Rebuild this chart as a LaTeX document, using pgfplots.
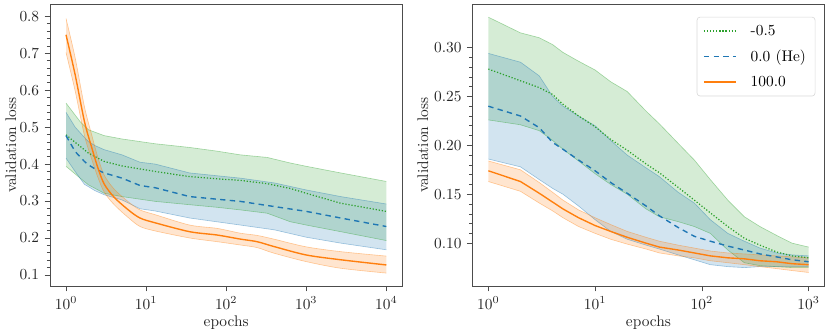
\documentclass[border=0pt]{standalone}
\usepackage{pgfplots}
\pgfplotsset{compat=1.18}
\usepackage{pgfplotstable}
\usepgfplotslibrary{fillbetween}

\definecolor{tabgreen}{HTML}{2CA02C}
\definecolor{tabblue}{HTML}{1F77B4}
\definecolor{taborange}{HTML}{FF7F0E}

% left panel: x, mean, upper, lower
\pgfplotstableread{
x     m     u     l
1     0.479 0.565 0.394
1.5   0.448 0.515 0.362
1.9   0.430 0.493 0.344
3     0.407 0.477 0.321
5     0.395 0.468 0.312
13    0.380 0.455 0.299
35    0.366 0.445 0.290
77    0.360 0.435 0.283
150   0.356 0.425 0.276
325   0.347 0.418 0.267
630   0.334 0.403 0.244
1000  0.321 0.394 0.235
2700  0.294 0.376 0.217
10000 0.272 0.353 0.193
}\Lgreen
\pgfplotstableread{
x     m     u     l
1     0.477 0.540 0.416
1.3   0.434 0.500 0.380
1.7   0.407 0.472 0.345
1.9   0.398 0.461 0.339
2.3   0.387 0.450 0.328
3     0.376 0.439 0.317
5     0.362 0.425 0.303
8.4   0.342 0.405 0.279
13    0.336 0.400 0.273
35    0.312 0.376 0.254
150   0.299 0.362 0.235
400   0.285 0.349 0.222
1000  0.272 0.330 0.202
2700  0.254 0.312 0.186
10000 0.231 0.292 0.168
}\Lblue
\pgfplotstableread{
x     m     u     l
1     0.750 0.794 0.702
1.3   0.642 0.688 0.598
1.7   0.515 0.555 0.477
2.1   0.444 0.478 0.412
2.5   0.390 0.418 0.364
3     0.346 0.370 0.324
4     0.310 0.332 0.290
6     0.276 0.298 0.255
8.4   0.254 0.276 0.231
13    0.241 0.263 0.219
35    0.217 0.235 0.200
77    0.208 0.226 0.190
150   0.197 0.213 0.181
243   0.190 0.207 0.174
393   0.177 0.197 0.159
1000  0.154 0.176 0.136
2700  0.141 0.163 0.118
10000 0.127 0.151 0.105
}\Lorange

% right panel
\pgfplotstableread{
x    m     u     l
1    0.278 0.331 0.226
2    0.266 0.315 0.221
3    0.259 0.310 0.215
4    0.252 0.303 0.205
5    0.242 0.295 0.196
7    0.230 0.286 0.184
10   0.219 0.277 0.171
14   0.206 0.265 0.160
20   0.195 0.255 0.150
30   0.181 0.235 0.135
40   0.172 0.222 0.127
60   0.157 0.202 0.122
85   0.144 0.185 0.117
120  0.131 0.165 0.110
175  0.117 0.144 0.093
250  0.105 0.127 0.080
350  0.098 0.117 0.077
500  0.091 0.108 0.076
700  0.087 0.100 0.075
1000 0.085 0.096 0.075
}\Rgreen
\pgfplotstableread{
x    m     u     l
1    0.240 0.294 0.186
2    0.230 0.285 0.178
3    0.218 0.271 0.165
4    0.203 0.250 0.156
5    0.196 0.240 0.150
7    0.185 0.230 0.138
10   0.174 0.220 0.124
14   0.162 0.205 0.112
20   0.151 0.190 0.104
30   0.138 0.177 0.098
40   0.128 0.168 0.094
60   0.116 0.152 0.088
85   0.107 0.141 0.083
120  0.102 0.124 0.078
175  0.097 0.110 0.076
250  0.093 0.102 0.075
350  0.089 0.095 0.076
500  0.086 0.090 0.076
700  0.083 0.088 0.076
1000 0.081 0.087 0.076
}\Rblue
\pgfplotstableread{
x    m     u     l
1    0.174 0.184 0.163
2    0.163 0.175 0.153
3    0.151 0.162 0.141
4    0.142 0.152 0.133
5    0.135 0.144 0.126
7    0.126 0.134 0.117
10   0.118 0.126 0.110
14   0.112 0.119 0.104
20   0.106 0.112 0.099
30   0.100 0.106 0.094
40   0.096 0.102 0.090
60   0.093 0.098 0.087
85   0.090 0.095 0.085
120  0.087 0.092 0.082
175  0.085 0.090 0.080
250  0.084 0.089 0.078
350  0.082 0.088 0.076
500  0.081 0.087 0.074
700  0.079 0.086 0.072
1000 0.078 0.085 0.070
}\Rorange

\begin{document}
\begin{tikzpicture}

% ---------- left panel ----------
\begin{axis}[
    at={(0pt,0pt)}, anchor=south west,
    xmode=log, log basis x=10,
    scale only axis, width=229pt, height=183pt,
    tick align=outside, tick pos=left,
    axis line style={black!70},
    every tick/.style={black!70},
    major tick length=3.5pt, minor tick length=2pt,
    minor y tick num=4,
    tick label style={text=black!85},
    label style={text=black!85},
    xlabel={epochs},
    ylabel={validation loss},
    xlabel style={at={(axis description cs:0.5,0)}, anchor=center, yshift=-23.5pt},
    ylabel style={at={(axis description cs:-0.111,0.5)}, anchor=center},
    xmin=0.631, xmax=15849,
    ymin=0.070, ymax=0.832,
    xtick={1,10,100,1000,10000},
    ytick={0.1,0.2,0.3,0.4,0.5,0.6,0.7,0.8},
    yticklabel style={/pgf/number format/.cd, fixed, fixed zerofill, precision=1},
]
\addplot[draw=tabgreen, draw opacity=0.4, line width=0.4pt, forget plot, name path=gu] table[x=x,y=u]{\Lgreen};
\addplot[draw=tabgreen, draw opacity=0.4, line width=0.4pt, forget plot, name path=gl] table[x=x,y=l]{\Lgreen};
\addplot[fill=tabgreen, fill opacity=0.2, draw=none, forget plot] fill between[of=gu and gl];
\addplot[draw=tabblue, draw opacity=0.4, line width=0.4pt, forget plot, name path=bu] table[x=x,y=u]{\Lblue};
\addplot[draw=tabblue, draw opacity=0.4, line width=0.4pt, forget plot, name path=bl] table[x=x,y=l]{\Lblue};
\addplot[fill=tabblue, fill opacity=0.2, draw=none, forget plot] fill between[of=bu and bl];
\addplot[draw=taborange, draw opacity=0.4, line width=0.4pt, smooth, tension=0.5, forget plot, name path=ou] table[x=x,y=u]{\Lorange};
\addplot[draw=taborange, draw opacity=0.4, line width=0.4pt, smooth, tension=0.5, forget plot, name path=ol] table[x=x,y=l]{\Lorange};
\addplot[fill=taborange, fill opacity=0.2, draw=none, forget plot] fill between[of=ou and ol];

\addplot[tabgreen, line width=0.8pt, dash pattern=on 0.8pt off 1.2pt] table[x=x,y=m]{\Lgreen};
\addplot[tabblue, line width=0.9pt, dash pattern=on 3.5pt off 2.8pt] table[x=x,y=m]{\Lblue};
\addplot[taborange, line width=0.9pt, smooth, tension=0.5] table[x=x,y=m]{\Lorange};
\end{axis}

% ---------- right panel ----------
\begin{axis}[
    at={(274.5pt,0pt)}, anchor=south west,
    xmode=log, log basis x=10,
    scale only axis, width=229pt, height=183pt,
    tick align=outside, tick pos=left,
    axis line style={black!70},
    every tick/.style={black!70},
    major tick length=3.5pt, minor tick length=2pt,
    minor y tick num=4,
    tick label style={text=black!85},
    label style={text=black!85},
    xlabel={epochs},
    ylabel={validation loss},
    xlabel style={at={(axis description cs:0.5,0)}, anchor=center, yshift=-23.5pt},
    ylabel style={at={(axis description cs:-0.14,0.5)}, anchor=center},
    xmin=0.708, xmax=1412.5,
    ymin=0.0562, ymax=0.344,
    xtick={1,10,100,1000},
    ytick={0.10,0.15,0.20,0.25,0.30},
    yticklabel style={/pgf/number format/.cd, fixed, fixed zerofill, precision=2},
    legend style={at={(rel axis cs:1,1)}, anchor=north east, xshift=-6pt, yshift=-8pt,
      draw=black!15, rounded corners=2pt, fill=white, fill opacity=0.8, text opacity=1,
      inner xsep=4pt, inner ysep=3pt, row sep=4pt,
      /tikz/every odd column/.append style={column sep=7pt}},
    legend cell align=left,
    legend image code/.code={\draw[#1] (0pt,0pt) -- (21pt,0pt);},
]
\addplot[draw=tabgreen, draw opacity=0.4, line width=0.4pt, forget plot, name path=gu] table[x=x,y=u]{\Rgreen};
\addplot[draw=tabgreen, draw opacity=0.4, line width=0.4pt, forget plot, name path=gl] table[x=x,y=l]{\Rgreen};
\addplot[fill=tabgreen, fill opacity=0.2, draw=none, forget plot] fill between[of=gu and gl];
\addplot[draw=tabblue, draw opacity=0.4, line width=0.4pt, forget plot, name path=bu] table[x=x,y=u]{\Rblue};
\addplot[draw=tabblue, draw opacity=0.4, line width=0.4pt, forget plot, name path=bl] table[x=x,y=l]{\Rblue};
\addplot[fill=tabblue, fill opacity=0.2, draw=none, forget plot] fill between[of=bu and bl];
\addplot[draw=taborange, draw opacity=0.4, line width=0.4pt, forget plot, name path=ou] table[x=x,y=u]{\Rorange};
\addplot[draw=taborange, draw opacity=0.4, line width=0.4pt, forget plot, name path=ol] table[x=x,y=l]{\Rorange};
\addplot[fill=taborange, fill opacity=0.2, draw=none, forget plot] fill between[of=ou and ol];

\addplot[tabgreen, line width=0.8pt, dash pattern=on 0.8pt off 1.2pt] table[x=x,y=m]{\Rgreen};
\addplot[tabblue, line width=0.9pt, dash pattern=on 3.5pt off 2.8pt] table[x=x,y=m]{\Rblue};
\addplot[taborange, line width=0.9pt] table[x=x,y=m]{\Rorange};
\legend{-0.5, 0.0 (He), 100.0}
\end{axis}

\pgfresetboundingbox
\useasboundingbox (-32.5pt,-29.25pt) rectangle (507pt,185.9pt);
\end{tikzpicture}
\end{document}
